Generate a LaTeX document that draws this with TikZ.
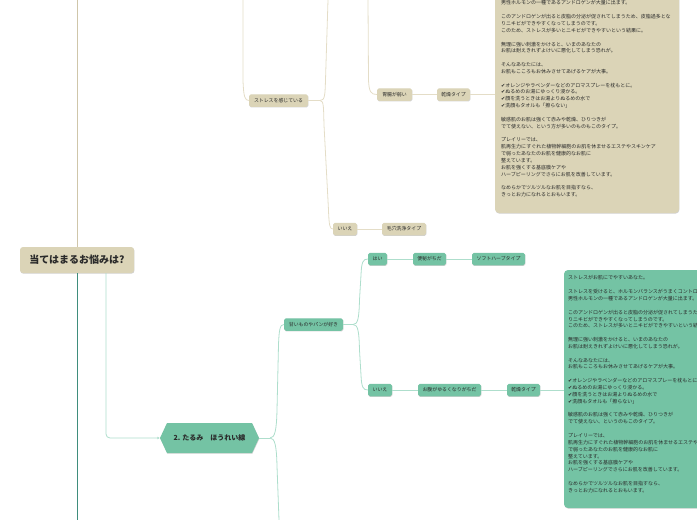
\documentclass[tikz,border=0pt]{standalone}
\usepackage{fontspec}
\newfontfamily\jp{Noto Sans CJK JP}
\newfontfamily\dejavu{DejaVu Sans}
\usetikzlibrary{shapes.symbols,shadows,arrows.meta}
\definecolor{bfill}{HTML}{DBD4B7}
\definecolor{gfill}{HTML}{74C3A4}
\definecolor{bline}{HTML}{E4DDC7}
\definecolor{gline}{HTML}{AEDECC}
\definecolor{ltop}{HTML}{CFC6AA}
\definecolor{lbot}{HTML}{3F8D7C}
\definecolor{ink}{HTML}{2A2A2A}
\newcommand{\chk}{{\dejavu ✔}}
\begin{document}
\begin{tikzpicture}[x=1pt,y=-1pt,
  shad/.style={drop shadow={shadow xshift=0.4pt,shadow yshift=-0.7pt,opacity=0.18,fill=black}},
  small/.style={rounded corners=1.8pt,inner sep=0pt,minimum height=12.5pt,
    font=\jp\fontsize{4.9}{5.5}\selectfont,text=ink,shad},
  bsmall/.style={small,fill=bfill},
  gsmall/.style={small,fill=gfill},
  bconn/.style={draw=bline,line width=0.8pt},
  gconn/.style={draw=gline,line width=0.8pt},
  boxtext/.style={inner sep=0pt,text width=195pt,align=left,text=ink,
    font=\jp\fontsize{5}{6.85}\selectfont},
  bigbox/.style={rounded corners=4pt,inner sep=0pt,shad}
]
\useasboundingbox (0,0) rectangle (697,520);
\clip (0,0) rectangle (697,520);

% coordinates for free ends
\coordinate (t0) at (77,0);
\coordinate (b0) at (77,520);
\coordinate (t1) at (243,0);
\coordinate (t2) at (368,0);
\coordinate (t3) at (328,0);
\coordinate (b1) at (279,520);
\coordinate (f1) at (320,100.5);
\coordinate (f2) at (270,438);
\coordinate (f3) at (353,324.5);

% big text boxes
\node[bigbox,fill=bfill,minimum width=184pt,minimum height=233pt] (box1) at (587,96.5) {};
\node[bigbox,fill=gfill,minimum width=196pt,minimum height=238pt] (box2) at (662,389) {};

% root
\node[fill=bfill,rounded corners=3pt,inner sep=0pt,minimum width=114pt,minimum height=26pt,
  font=\jp\bfseries\fontsize{10}{12}\selectfont,text=ink,shad] (root) at (77,260) {当てはまるお悩みは?};

% hexagon
\node[signal,signal to=east and west,signal pointer angle=130,fill=gfill,inner sep=0pt,
  minimum width=99pt,minimum height=30pt,font=\jp\bfseries\fontsize{7}{8}\selectfont,text=ink,shad]
  (hex) at (209.5,438) {2. たるみ　ほうれい線};

% beige small nodes
\node[bsmall,minimum width=59pt] (stress) at (278.5,100.5) {ストレスを感じている};
\node[bsmall,minimum width=35pt] (ichou) at (394.5,94.5) {胃腸が弱い};
\node[bsmall,minimum width=33pt] (dry1) at (453.5,94.5) {乾燥タイプ};
\node[bsmall,minimum width=24pt] (iie1) at (345,229) {いいえ};
\node[bsmall,minimum width=44pt] (pore) at (404,229) {毛穴洗浄タイプ};

% green small nodes
\node[gsmall,minimum width=59pt] (sweet) at (313.5,324.5) {甘いものやパンが好き};
\node[gsmall,minimum width=19pt] (hai) at (377.5,259) {はい};
\node[gsmall,minimum width=33pt] (benpi) at (429.5,259) {便秘がちだ};
\node[gsmall,minimum width=53pt] (soft) at (498.5,259) {ソフトハーブタイプ};
\node[gsmall,minimum width=24pt] (iie2) at (380,390) {いいえ};
\node[gsmall,minimum width=63pt] (onaka) at (449.5,390) {お腹がゆるくなりがちだ};
\node[gsmall,minimum width=33pt] (dry2) at (523.5,390) {乾燥タイプ};

% texts in boxes
\node[boxtext,anchor=north west] (txt1) at (501,0.5) {%
男性ホルモンの一種であるアンドロゲンが大量に出ます。\\[6.85pt]
このアンドロゲンが出ると皮脂の分泌が促されてしまうため、皮脂過多とな\\
りニキビができやすくなってしまうのです。\\
このため、ストレスが多いとニキビができやすいという結果に。\\[6.85pt]
無理に強い刺激をかけると、いまのあなたの\\
お肌は耐えきれずよけいに悪化してしまう恐れが。\\[6.85pt]
そんなあなたには、\\
お肌もこころもお休みさせてあげるケアが大事。\\[6.85pt]
\chk オレンジやラベンダーなどのアロマスプレーを枕もとに。\\
\chk ぬるめのお湯にゆっくり浸かる。\\
\chk 顔を洗うときはお湯よりぬるめの水で\\
\chk 洗顔もタオルも「擦らない」\\[6.85pt]
敏感肌のお肌は強くて赤みや乾燥、ひりつきが\\
でて使えない、という方が多いのものもこのタイプ。\\[6.85pt]
プレイリーでは、\\
肌再生力にすぐれた植物幹細胞のお肌を休ませるエステやスキンケア\\
で弱ったあなたのお肌を健康的なお肌に\\
整えています。\\
お肌を強くする基底膜ケアや\\
ハーブピーリングでさらにお肌を改善しています。\\[6.85pt]
なめらかでツルツルなお肌を目指すなら、\\
きっとお力になれるとおもいます。};

\node[boxtext,anchor=north west] (txt2) at (568,275.5) {%
ストレスがお肌にでやすいあなた。\\[6.85pt]
ストレスを受けると、ホルモンバランスがうまくコントロールできなくなり、\\
男性ホルモンの一種であるアンドロゲンが大量に出ます。\\[6.85pt]
このアンドロゲンが出ると皮脂の分泌が促されてしまうため、皮脂過多とな\\
りニキビができやすくなってしまうのです。\\
このため、ストレスが多いとニキビができやすいという結果に。\\[6.85pt]
無理に強い刺激をかけると、いまのあなたの\\
お肌は耐えきれずよけいに悪化してしまう恐れが。\\[6.85pt]
そんなあなたには、\\
お肌もこころもお休みさせてあげるケアが大事。\\[6.85pt]
\chk オレンジやラベンダーなどのアロマスプレーを枕もとに。\\
\chk ぬるめのお湯にゆっくり浸かる。\\
\chk 顔を洗うときはお湯よりぬるめの水で\\
\chk 洗顔もタオルも「擦らない」\\[6.85pt]
敏感肌のお肌は強くて赤みや乾燥、ひりつきが\\
でて使えない、というのもこのタイプ。\\[6.85pt]
プレイリーでは、\\
肌再生力にすぐれた植物幹細胞のお肌を休ませるエステやスキンケア\\
で弱ったあなたのお肌を健康的なお肌に\\
整えています。\\
お肌を強くする基底膜ケアや\\
ハーブピーリングでさらにお肌を改善しています。\\[6.85pt]
なめらかでツルツルなお肌を目指すなら、\\
きっとお力になれるとおもいます。};

% connectors
\draw[draw=ltop,line width=0.9pt] (root.north) -- (t0);
\draw[draw=lbot,line width=0.9pt] (root.south) -- (b0);
\draw[gconn,rounded corners=4pt,-{Triangle[length=2.5pt,width=2.5pt]}] ([xshift=29pt]root.south) |- (hex.west);

% beige tree
\draw[bconn] (t1) -- (243,80) .. controls (243.5,97) and (245,100.5) .. (stress.west);
\draw[bconn] (stress.east) -- (f1);
\draw[bconn] (f1) .. controls (325,100.5) and (325,95) .. (325.5,80) -- (t3);
\draw[bconn] (f1) .. controls (324,100.5) and (323.5,108) .. (324,125) -- (328.5,210)
   .. controls (329,226) and (330,229) .. (iie1.west);
\draw[bconn] (t2) -- (368.5,80) .. controls (369,92) and (371,94.5) .. (ichou.west);
\draw[bconn] (ichou.east) -- (dry1.west);
\draw[bconn] (dry1.east) -- (dry1.east -| box1.west);
\draw[bconn] (iie1.east) -- (pore.west);

% green tree
\draw[gconn] (hex.east) -- (f2);
\draw[gconn] (f2) .. controls (275,438) and (276.5,430) .. (277,410) -- (278.5,345)
   .. controls (279,330) and (280,324.5) .. (sweet.west);
\draw[gconn] (f2) .. controls (275,438) and (276.5,446) .. (277,466) -- (b1);
\draw[gconn] (sweet.east) -- (f3);
\draw[gconn] (f3) .. controls (358,324.5) and (359,318) .. (359.5,300) -- (361,275)
   .. controls (361.5,262) and (363,259) .. (hai.west);
\draw[gconn] (f3) .. controls (358,324.5) and (359,331) .. (359.5,350) -- (361,375)
   .. controls (361.5,387) and (363,390) .. (iie2.west);
\draw[gconn] (hai.east) -- (benpi.west);
\draw[gconn] (benpi.east) -- (soft.west);
\draw[gconn] (iie2.east) -- (onaka.west);
\draw[gconn] (onaka.east) -- (dry2.west);
\draw[gconn] (dry2.east) -- (dry2.east -| box2.west);
\end{tikzpicture}
\end{document}
